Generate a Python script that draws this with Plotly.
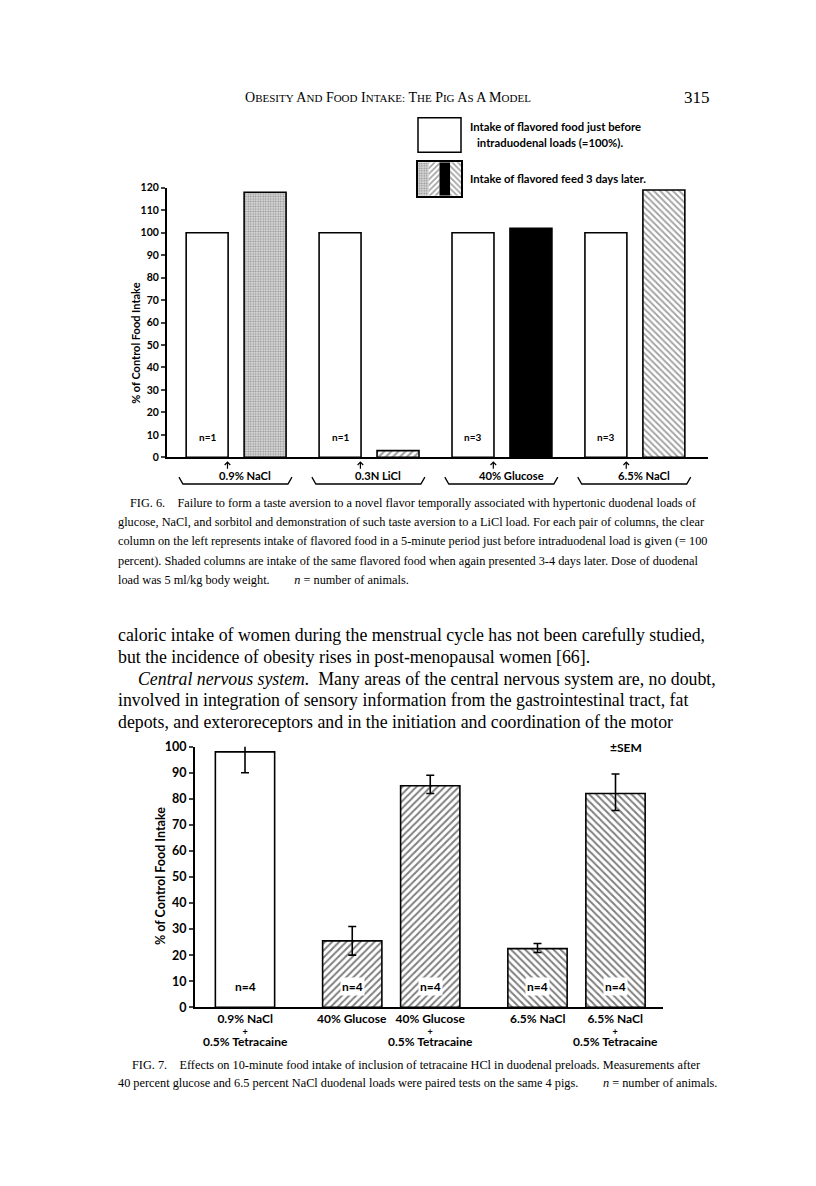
import plotly.graph_objects as go

W, H = 816, 1186

# ---- Fig. 6 data ----
groups6 = ['0.9% NaCl', '0.3N LiCl', '40% Glucose', '6.5% NaCl']
before6 = [100, 100, 100, 100]          # clear columns (=100%)
later6 = [118, 3, 102, 119]             # shaded columns, 3 days later
n6 = [1, 1, 3, 3]
later6_shape = ['.', '/', '', '\\']
later6_fill = ['#d6d6d6', 'white', 'black', 'white']
later6_fg = ['#8c8c8c', 'black', 'black', 'black']

# ---- Fig. 7 data ----
labels7 = ['0.9% NaCl', '40% Glucose', '40% Glucose', '6.5% NaCl', '6.5% NaCl']
tetracaine7 = [True, False, True, False, True]
group7 = [0, 1, 1, 2, 2]
mean7 = [98, 25.5, 85, 22.5, 82]
err_up7 = [6, 5.5, 4, 2, 7.5]
err_dn7 = [8, 5.5, 3, 1.5, 6.5]
n7 = [4, 4, 4, 4, 4]
shape7 = ['', '/', '/', '\\', '\\']

SANS = 'Lato'
SERIF = 'Liberation Serif'


def px(x):
    return x / W


def py(y):
    return 1 - y / H


# bar positions for fig 7: pairs sit close, groups further apart
x7 = []
pos = 0.0
for i, g in enumerate(group7):
    if i > 0:
        pos += 1.0 if g == group7[i - 1] else 1.375
    x7.append(pos)

x6 = list(range(len(groups6)))

fig = go.Figure()

fig.add_trace(go.Bar(
    x=x6, y=before6, xaxis='x', yaxis='y',
    marker=dict(color='white', line=dict(color='black', width=1.6)),
))
fig.add_trace(go.Bar(
    x=x6, y=later6, xaxis='x', yaxis='y',
    marker=dict(color=later6_fill, line=dict(color='black', width=1.6),
                pattern=dict(shape=later6_shape, fgcolor=later6_fg,
                             size=[2.5, 5, 5, 4.5], solidity=[0.3, 0.42, 0.42, 0.4])),
))

# legend swatch (the four shadings)
fig.add_trace(go.Bar(
    x=x6, y=[1] * len(x6), xaxis='x3', yaxis='y3', width=1,
    marker=dict(color=later6_fill, line=dict(width=0),
                pattern=dict(shape=later6_shape, fgcolor=later6_fg,
                             size=[2.5, 4, 4, 4], solidity=[0.3, 0.42, 0.42, 0.42])),
))

fig.add_trace(go.Bar(
    x=x7, y=mean7, xaxis='x2', yaxis='y2', width=0.76, cliponaxis=False,
    marker=dict(color='white', line=dict(color='black', width=1.6),
                pattern=dict(shape=shape7, fgcolor='black', size=5, solidity=0.4)),
    error_y=dict(type='data', symmetric=False, array=err_up7, arrayminus=err_dn7,
                 color='black', thickness=1.6, width=4),
))

axis_common = dict(showgrid=False, zeroline=False, showline=True,
                   linecolor='black', linewidth=2, fixedrange=True)

fig.update_layout(
    width=W, height=H, autosize=False,
    margin=dict(l=0, r=0, t=0, b=0),
    paper_bgcolor='white', plot_bgcolor='white',
    showlegend=False,
    barmode='group', bargap=0.128, bargroupgap=0.276,
    font=dict(family=SANS, color='black'),
    xaxis=dict(domain=[px(159), px(700)], range=[-0.52, 3.55], anchor='y',
               showticklabels=False, ticks='', **axis_common),
    yaxis=dict(domain=[py(447), py(174)], range=[0, 120], anchor='x',
               dtick=10, ticks='outside', ticklen=4, tickwidth=1.5,
               tickfont=dict(family=SANS, size=10.5, weight='bold'), **axis_common),
    xaxis2=dict(domain=[px(187), px(655)], range=[-0.641, 5.359], anchor='y2',
                showticklabels=False, ticks='', **axis_common),
    yaxis2=dict(domain=[py(1004), py(740)], range=[0, 100], anchor='x2',
                dtick=10, ticks='outside', ticklen=4, tickwidth=1.5,
                tickfont=dict(family=SANS, size=12.5, weight='bold'), **axis_common),
    xaxis3=dict(domain=[px(410), px(453)], range=[-0.5, 3.5], anchor='y3',
                showticklabels=False, ticks='', mirror=True,
                showgrid=False, zeroline=False, showline=True,
                linecolor='black', linewidth=1.5),
    yaxis3=dict(domain=[py(182), py(148)], range=[0, 1], anchor='x3',
                showticklabels=False, ticks='', mirror=True,
                showgrid=False, zeroline=False, showline=True,
                linecolor='black', linewidth=1.5),
)


def label(x, y, text, size, family=SANS, bold=True, anchor='center', **kw):
    fig.add_annotation(
        x=x, y=y, xref=kw.pop('xref', 'paper'), yref=kw.pop('yref', 'paper'),
        text=text, showarrow=False, xanchor=anchor,
        yanchor=kw.pop('yanchor', 'middle'),
        font=dict(family=family, size=size, color='black',
                  weight='bold' if bold else 'normal'),
        **kw)


def small_caps(text, big, small):
    out = []
    for word in text.split(' '):
        out.append(f'<span style="font-size:{big}px">{word[0]}</span>'
                   f'<span style="font-size:{small}px">{word[1:]}</span>')
    return ' '.join(out)


# ---- page text ----
label(px(235), py(83), small_caps('OBESITY AND FOOD INTAKE: THE PIG AS A MODEL', 14, 11),
      14, family=SERIF, bold=False, anchor='left')
label(px(704), py(83), '315', 17, family=SERIF, bold=False, anchor='right')

# ---- Fig. 6 decorations ----
fig.add_shape(type='rect', xref='paper', yref='paper',
              x0=px(410), x1=px(453), y0=py(138), y1=py(103),
              line=dict(color='black', width=1.5), fillcolor='white')
label(px(460), py(112), 'Intake of flavored food just before', 11.3, anchor='left')
label(px(467), py(128), 'intraduodenal loads (=100%).', 11.3, anchor='left')
label(px(460), py(165), 'Intake of flavored feed 3 days later.', 11.3, anchor='left')

label(px(128), py(331), '% of Control Food Intake', 11, textangle=-90)

for g, name in enumerate(groups6):
    label(g - 0.218, 9, f'n={n6[g]}', 10, xref='x', yref='y')
    # load marker: small arrow under the clear column
    fig.add_annotation(x=g - 0.065, y=py(451), xref='x', yref='paper', text='',
                       showarrow=True, ax=0, ay=9, arrowhead=4, arrowsize=0.9,
                       arrowwidth=1.2, arrowcolor='black')
    label(g + 0.07, py(465), name, 11.2, xref='x')
    fig.add_shape(type='path', xref='x', yref='paper',
                  path=f'M {g - 0.43},{py(467)} L {g - 0.40},{py(474)} '
                       f'L {g + 0.39},{py(474)} L {g + 0.42},{py(467)}',
                  line=dict(color='black', width=1.3))

# ---- Fig. 7 decorations ----
label(px(153), py(871), '% of Control Food Intake', 12.5, textangle=-90)
label(px(618), py(741), '\u00b1SEM', 12)

for i, xv in enumerate(x7):
    fig.add_annotation(x=xv, y=8, xref='x2', yref='y2', text=f'n={n7[i]}',
                       showarrow=False, bgcolor='white', borderpad=1,
                       font=dict(family=SANS, size=12, weight='bold'))
    lines = [f'<span style="font-size:12px">{labels7[i]}</span>']
    if tetracaine7[i]:
        lines += ['<span style="font-size:9px">+</span>',
                  '<span style="font-size:12px">0.5% Tetracaine</span>']
    label(xv, py(1006), '<br>'.join(lines), 9, xref='x2', yanchor='top')

# ---- captions and body text ----
sp = '\u00a0'
cap6 = [
    (120, f'FIG. 6.{sp * 4}Failure to form a taste aversion to a novel flavor temporally associated with hypertonic duodenal loads of'),
    (108, 'glucose, NaCl, and sorbitol and demonstration of such taste aversion to a LiCl load. For each pair of columns, the clear'),
    (108, 'column on the left represents intake of flavored food in a 5-minute period just before intraduodenal load is given (= 100'),
    (108, 'percent). Shaded columns are intake of the same flavored food when again presented 3-4 days later. Dose of duodenal'),
    (108, f'load was 5 ml/kg body weight.{sp * 8}<i>n</i> = number of animals.'),
]
for k, (x0, t) in enumerate(cap6):
    label(px(x0), py(493 + 19.5 * k), t, 12.3, family=SERIF, bold=False, anchor='left')

body = [
    (108, 'caloric intake of women during the menstrual cycle has not been carefully studied,'),
    (108, 'but the incidence of obesity rises in post-menopausal women [66].'),
    (128, f'<i>Central nervous system.</i>{sp * 2}Many areas of the central nervous system are, no doubt,'),
    (108, 'involved in integration of sensory information from the gastrointestinal tract, fat'),
    (108, 'depots, and exteroreceptors and in the initiation and coordination of the motor'),
]
for k, (x0, t) in enumerate(body):
    label(px(x0), py(627 + 22 * k), t, 17.8, family=SERIF, bold=False, anchor='left')

cap7 = [
    (122, f'FIG. 7.{sp * 4}Effects on 10-minute food intake of inclusion of tetracaine HCl in duodenal preloads. Measurements after'),
    (108, f'40 percent glucose and 6.5 percent NaCl duodenal loads were paired tests on the same 4 pigs.{sp * 8}<i>n</i> = number of animals.'),
]
for k, (x0, t) in enumerate(cap7):
    label(px(x0), py(1062 + 18.5 * k), t, 12.3, family=SERIF, bold=False, anchor='left')

fig.write_html("out.html")
